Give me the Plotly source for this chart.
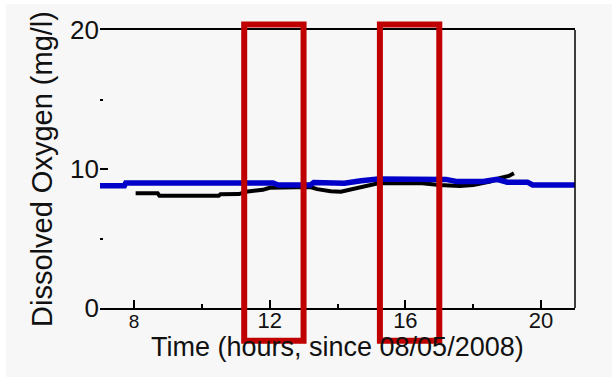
import plotly.graph_objects as go

# Modelled dissolved oxygen (blue)
model_time = [7.0, 7.72, 7.76, 12.1, 12.25, 13.2, 13.3, 13.7, 14.2, 14.7, 15.2,
              17.2, 17.5, 18.3, 18.7, 19.0, 19.6, 19.75, 21.0]
model_do = [8.8, 8.8, 9.0, 9.0, 8.85, 8.85, 9.02, 8.97, 8.97, 9.15, 9.28,
            9.25, 9.1, 9.1, 9.25, 9.05, 9.05, 8.85, 8.85]

# Observed dissolved oxygen (black)
obs_time = [8.05, 8.7, 8.75, 10.5, 10.55, 11.1, 11.3, 11.8, 12.0, 12.5, 13.2,
            13.4, 13.8, 14.1, 14.5, 15.2, 16.0, 16.5, 17.0, 17.6, 18.0, 18.5,
            18.8, 19.05, 19.2]
obs_do = [8.25, 8.25, 8.08, 8.08, 8.18, 8.2, 8.37, 8.5, 8.65, 8.7, 8.7,
          8.55, 8.4, 8.37, 8.6, 8.97, 9.0, 8.98, 8.85, 8.78, 8.85, 9.1,
          9.35, 9.5, 9.7]

# Highlight windows (hours)
highlight_windows = [(11.25, 13.0), (15.25, 17.0)]

x_range = [7, 21]
y_range = [0, 20]
x_ticks = [8, 12, 16, 20]
y_ticks = [0, 10, 20]
x_title = "Time (hours, since 08/05/2008)"
y_title = "Dissolved Oxygen (mg/l)"

FONT = "Liberation Sans, Arial, sans-serif"
W, H = 612, 377
ML, MR, MT, MB = 100, 37, 30, 69
PW, PH = W - ML - MR, H - MT - MB

fig = go.Figure()
fig.add_trace(go.Scatter(x=obs_time, y=obs_do, mode="lines",
                         line=dict(color="#000000", width=4), showlegend=False))
fig.add_trace(go.Scatter(x=model_time, y=model_do, mode="lines",
                         line=dict(color="#0000c8", width=5.5), showlegend=False))

def py_to_paper(py):
    return (H - MB - py) / PH

def px_to_paper(px):
    return (px - ML) / PW

shapes = []
# white strips at top and left of the picture
shapes.append(dict(type="rect", xref="paper", yref="paper",
                   x0=px_to_paper(0), x1=px_to_paper(W), y0=py_to_paper(4), y1=py_to_paper(0),
                   fillcolor="white", line=dict(width=0), layer="below"))
shapes.append(dict(type="rect", xref="paper", yref="paper",
                   x0=px_to_paper(0), x1=px_to_paper(6), y0=py_to_paper(H), y1=py_to_paper(0),
                   fillcolor="white", line=dict(width=0), layer="below"))
# right frame line
shapes.append(dict(type="line", xref="paper", yref="paper", x0=1, x1=1, y0=0, y1=1,
                   line=dict(color="black", width=1.5)))
for (a, b) in highlight_windows:
    shapes.append(dict(type="rect", xref="x", yref="paper", x0=a, x1=b,
                       y0=py_to_paper(340.8), y1=py_to_paper(24.5),
                       line=dict(color="#c00000", width=6), fillcolor="rgba(0,0,0,0)",
                       layer="above"))

x_ticktext = ['<span style="font-size:19px">8</span>'] + [str(v) for v in x_ticks[1:]]

fig.update_layout(
    width=W, height=H,
    margin=dict(l=ML, r=MR, t=MT, b=MB, pad=0),
    paper_bgcolor="#f7f7f7", plot_bgcolor="#f7f7f7",
    font=dict(family=FONT, color="#111111"),
    shapes=shapes,
    showlegend=False,
    annotations=[dict(text=x_title, xref="paper", yref="paper", x=0.5, y=py_to_paper(346.5),
                      xanchor="center", yanchor="middle", showarrow=False, borderpad=0,
                      font=dict(size=27, family=FONT, color="#111111"))],
)
fig.update_xaxes(
    range=x_range, tickmode="array", tickvals=x_ticks, ticktext=x_ticktext,
    ticks="inside", ticklen=8, tickwidth=1.5, tickcolor="black",
    minor=dict(tickmode="array", tickvals=[10, 14, 18], ticks="inside", ticklen=4,
               tickwidth=1.5, tickcolor="black"),
    showline=True, linecolor="black", linewidth=1.5, mirror=True,
    showgrid=False, zeroline=False,
    tickfont=dict(size=22, family=FONT),
    ticklabelstandoff=-8,
)
fig.update_yaxes(
    range=y_range, tickmode="array", tickvals=y_ticks, ticktext=[str(v) for v in y_ticks],
    ticks="inside", ticklen=8, tickwidth=1.5, tickcolor="black",
    minor=dict(tickmode="array", tickvals=[5, 15], ticks="inside", ticklen=3,
               tickwidth=1.5, tickcolor="black"),
    showline=False, showgrid=False, zeroline=False,
    tickfont=dict(size=26, family=FONT),
    title=dict(text=y_title, font=dict(size=29, family=FONT), standoff=8),
)

fig.write_html("out.html")
